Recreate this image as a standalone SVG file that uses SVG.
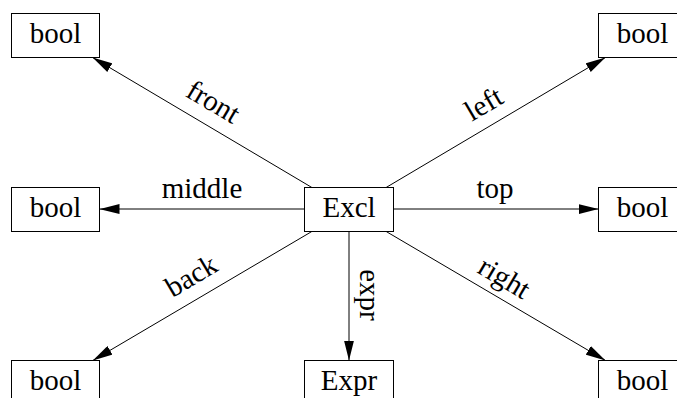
<svg xmlns="http://www.w3.org/2000/svg" width="677" height="398" viewBox="0 0 677 398">
  <style>
    .node rect { fill: #ffffff; stroke: #000000; stroke-width: 1; }
    text { font-family: "Liberation Serif", "Times New Roman", serif; font-size: 29px; fill: #000000; }
    .node text { text-anchor: middle; }
    .edges line { stroke: #000000; stroke-width: 1; }
    .edges text { text-anchor: middle; }
  </style>
  <defs>
    <marker id="arrow" markerUnits="userSpaceOnUse" markerWidth="20" markerHeight="10" refX="20" refY="5" orient="auto">
      <polygon points="0,0 20,5 0,10" fill="#000000"/>
    </marker>
  </defs>
  <rect width="677" height="398" fill="#ffffff"/>

  <!-- connectors from the Excl node -->
  <g id="edges" class="edges">
    <line x1="311.9" y1="187.5" x2="92.6" y2="57.5" marker-end="url(#arrow)"/>
    <text transform="translate(208.5,110) rotate(30.66)">front</text>

    <line x1="386.1" y1="187.5" x2="605.4" y2="57.5" marker-end="url(#arrow)"/>
    <text transform="translate(488.5,112) rotate(-30.66)">left</text>

    <line x1="304.5" y1="209" x2="99.5" y2="209" marker-end="url(#arrow)"/>
    <text x="202" y="198">middle</text>

    <line x1="393.5" y1="209" x2="598.5" y2="209" marker-end="url(#arrow)"/>
    <text x="495" y="198">top</text>

    <line x1="311.8" y1="231.5" x2="92.8" y2="360.5" marker-end="url(#arrow)"/>
    <text transform="translate(196,284) rotate(-30.66)">back</text>

    <line x1="386.2" y1="231.5" x2="605.5" y2="360.5" marker-end="url(#arrow)"/>
    <text transform="translate(499.5,286) rotate(30.66)">right</text>

    <line x1="349" y1="231.5" x2="349" y2="360.5" marker-end="url(#arrow)"/>
    <text transform="translate(360,295) rotate(90)">expr</text>
  </g>

  <!-- nodes -->
  <g id="excl" class="node">
    <rect x="304.5" y="187.5" width="89" height="44"/>
    <text x="349" y="216.5">Excl</text>
  </g>
  <g id="bool_front" class="node">
    <rect x="11.5" y="13.5" width="88" height="44"/>
    <text x="55.5" y="42.5">bool</text>
  </g>
  <g id="bool_left" class="node">
    <rect x="598.5" y="13.5" width="88" height="44"/>
    <text x="642.5" y="42.5">bool</text>
  </g>
  <g id="bool_middle" class="node">
    <rect x="11.5" y="187.5" width="88" height="44"/>
    <text x="55.5" y="216.5">bool</text>
  </g>
  <g id="bool_top" class="node">
    <rect x="598.5" y="187.5" width="88" height="44"/>
    <text x="642.5" y="216.5">bool</text>
  </g>
  <g id="bool_back" class="node">
    <rect x="11.5" y="360.5" width="88" height="44"/>
    <text x="55.5" y="389.5">bool</text>
  </g>
  <g id="expr" class="node">
    <rect x="304.5" y="360.5" width="89" height="44"/>
    <text x="349" y="389.5">Expr</text>
  </g>
  <g id="bool_right" class="node">
    <rect x="598.5" y="360.5" width="88" height="44"/>
    <text x="642.5" y="389.5">bool</text>
  </g>
</svg>
